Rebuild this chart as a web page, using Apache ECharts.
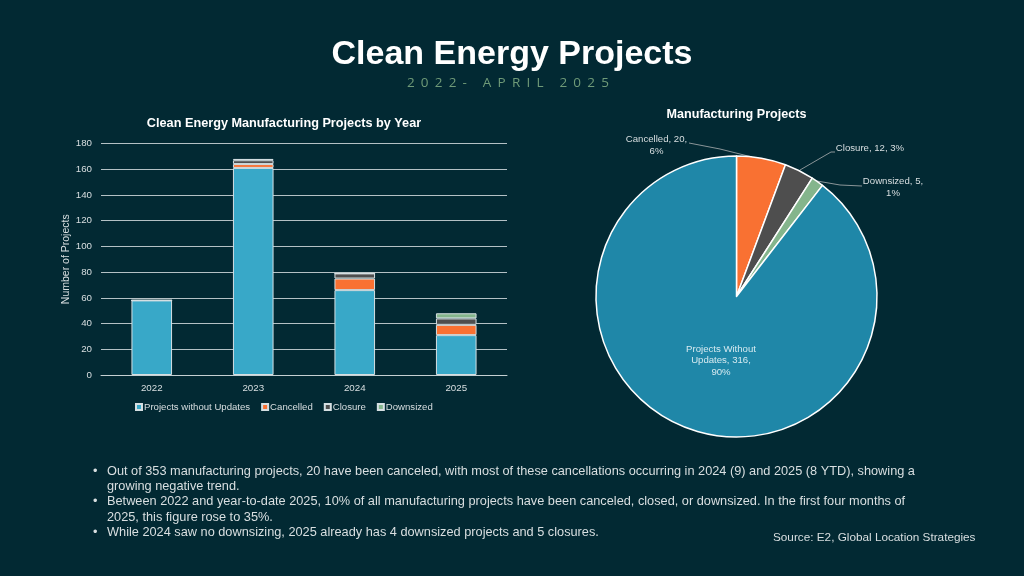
<!DOCTYPE html>
<html>
<head>
<meta charset="utf-8">
<title>Clean Energy Projects</title>
<script src="https://cdn.jsdelivr.net/npm/echarts@6/dist/echarts.min.js"></script>
<style>
  html, body { margin: 0; padding: 0; background: #022933; }
  #main { width: 1024px; height: 576px; }
  #sub { position: absolute; left: -1px; top: 74px; width: 1024px; text-align: center; color: #6f9a78;
    font: 13.5px "Open Sans", sans-serif; letter-spacing: 6.2px; line-height: 16px; }
</style>
</head>
<body>
<div id="main"></div>
<div id="sub">2022- APRIL 2025</div>
<script>
// bars
var years = ['2022', '2023', '2024', '2025'];
var withoutUpdates = [58, 161, 66, 31];
var cancelled = [0, 3, 9, 8];
var closure = [0, 3, 4, 5];
var downsized = [0, 1, 0, 4];

// pie
var pieNames = ['Cancelled', 'Closure', 'Downsized', 'Projects Without Updates'];
var pieValues = [20, 12, 5, 316];
var pieLabels = ['Cancelled, 20,\n6%', 'Closure, 12, 3%', 'Downsized, 5,\n1%', 'Projects Without\nUpdates, 316,\n90%'];

var notes = [
    'Out of 353 manufacturing projects, 20 have been canceled, with most of these cancellations occurring in 2024 (9) and 2025 (8 YTD), showing a',
    'growing negative trend.',
    'Between 2022 and year-to-date 2025, 10% of all manufacturing projects have been canceled, closed, or downsized. In the first four months of',
    '2025, this figure rose to 35%.',
    'While 2024 saw no downsizing, 2025 already has 4 downsized projects and 5 closures.'
];
var noteHasBullet = [true, false, true, false, true];

var BLUE = '#38a8c8', PIE_BLUE = '#1f87a8', ORANGE = '#f97132', GREY = '#4e4e4e', GREEN = '#84b58c';
var TEXT = '#d9dfe1', FONT = '"Liberation Sans", Arial, sans-serif';

function barSeries(name, data, color) {
    return {
        name: name,
        type: 'bar',
        stack: 'total',
        barWidth: '40%',
        data: data,
        itemStyle: { color: color, borderColor: '#d5dfe2', borderWidth: 1 }
    };
}

// text blocks under the charts
var noteText = [];
for (var i = 0; i < notes.length; i++) {
    var y = 471.5 + i * 15.2;
    noteText.push({ type: 'text', x: 107, y: y, style: { text: notes[i], fill: TEXT, font: '12.75px ' + FONT, textVerticalAlign: 'middle' } });
    if (noteHasBullet[i]) {
        noteText.push({ type: 'text', x: 93, y: y, style: { text: '•', fill: TEXT, font: '12.75px ' + FONT, textVerticalAlign: 'middle' } });
    }
}
noteText.push({ type: 'text', x: 773, y: 538, style: { text: 'Source: E2, Global Location Strategies', fill: TEXT, font: '11.75px ' + FONT, textVerticalAlign: 'middle' } });

// where the pie labels sit, and their leader lines
var labelSpots = [
    { x: 656.5, y: 145.5, line: [[689, 143], [720, 149], [752, 157]] },
    { x: 870, y: 148.5, line: [[835, 152], [831, 152], [800, 170]] },
    { x: 893, y: 187.5, line: [[862, 186], [840, 185], [817, 181]] },
    { x: 721, y: 360.5 }
];

var chart = echarts.init(document.getElementById('main'));
chart.setOption({
    backgroundColor: '#022933',
    animation: false,
    title: [
        // title boxes carry 5px of padding, hence the offsets from the real centres
        { text: 'Clean Energy Projects', left: 507, top: 33, textAlign: 'center', textStyle: { color: '#fff', fontFamily: FONT, fontSize: 34, fontWeight: 'bold' } },
        { text: 'Clean Energy Manufacturing Projects by Year', left: 279, top: 112, textAlign: 'center', textStyle: { color: '#fff', fontFamily: FONT, fontSize: 12.7, fontWeight: 'bold' } },
        { text: 'Manufacturing Projects', left: 731.5, top: 103, textAlign: 'center', textStyle: { color: '#fff', fontFamily: FONT, fontSize: 12.6, fontWeight: 'bold' } }
    ],
    legend: {
        left: 130,
        top: 397,
        itemWidth: 6,
        itemHeight: 6,
        itemGap: 11,
        icon: 'rect',
        textStyle: { color: TEXT, fontFamily: FONT, fontSize: 9.6, padding: [0, 0, 0, -3] },
        data: ['Projects without Updates', 'Cancelled', 'Closure', 'Downsized']
    },
    grid: { left: 101, top: 143.5, width: 406, height: 231.5 },
    xAxis: {
        type: 'category',
        data: years,
        axisTick: { show: false },
        axisLine: { lineStyle: { color: '#c5d0d3', width: 1 } },
        axisLabel: { color: TEXT, fontFamily: FONT, fontSize: 9.75, margin: 8 }
    },
    yAxis: {
        type: 'value',
        min: 0,
        max: 180,
        interval: 20,
        name: 'Number of Projects',
        nameLocation: 'middle',
        nameGap: 24,
        nameTextStyle: { color: TEXT, fontFamily: FONT, fontSize: 10.5 },
        axisLine: { show: false },
        axisTick: { show: false },
        axisLabel: { color: TEXT, fontFamily: FONT, fontSize: 9.75, margin: 9 },
        splitLine: { lineStyle: { color: '#b4c1c5', width: 1 } }
    },
    series: [
        barSeries('Projects without Updates', withoutUpdates, BLUE),
        barSeries('Cancelled', cancelled, ORANGE),
        barSeries('Closure', closure, GREY),
        barSeries('Downsized', downsized, GREEN),
        {
            type: 'pie',
            center: [736.5, 296.5],
            radius: 140.5,
            startAngle: 90,
            clockwise: true,
            data: pieNames.map(function (n, idx) {
                return {
                    name: n,
                    value: pieValues[idx],
                    label: { formatter: pieLabels[idx], color: idx === 3 ? '#d6eaf0' : TEXT },
                    labelLine: { show: idx !== 3 }
                };
            }),
            color: [ORANGE, GREY, GREEN, PIE_BLUE],
            itemStyle: { borderColor: '#fff', borderWidth: 1.5 },
            label: { fontFamily: FONT, fontSize: 9.6, lineHeight: 11.5, align: 'center' },
            labelLine: { lineStyle: { color: '#8a9598', width: 1 } },
            labelLayout: function (params) {
                var s = labelSpots[params.dataIndex];
                return { x: s.x, y: s.y, align: 'center', verticalAlign: 'middle', labelLinePoints: s.line };
            }
        }
    ],
    graphic: noteText
});
</script>
</body>
</html>
